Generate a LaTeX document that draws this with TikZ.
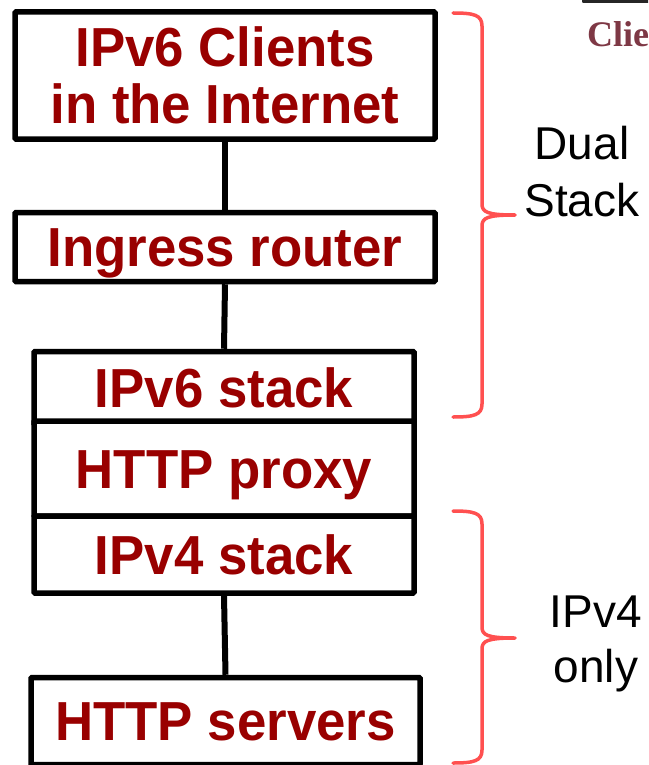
\documentclass[tikz,border=0pt]{standalone}
\usepackage{fontspec}
\setmainfont{Liberation Sans}
\newfontfamily\cliefont{Liberation Serif}
\usepackage{graphicx}
\definecolor{dred}{HTML}{990000}
\definecolor{bracered}{HTML}{FF5050}
\definecolor{cliecol}{HTML}{7E3845}
\newcommand\narrowtxt[1]{\scalebox{0.96}[1]{#1}}
\begin{document}
\begin{tikzpicture}[x=1pt,y=-1pt,
  box/.style={draw=black, line width=5.5pt, rounded corners=1pt, fill=white,
    inner sep=0pt, text=dred, align=center,
    font=\bfseries\fontsize{55}{57}\selectfont},
  capsbox/.style={box, text height=39.4pt, text depth=0pt},
  link/.style={draw=black, line width=6pt},
  brc/.style={draw=bracered, line width=3.5pt, line cap=round, line join=round},
  side/.style={inner sep=0pt, align=center, text=black}
]
\clip (0,0) rectangle (648,765);
\fill[white] (0,0) rectangle (648,765);

% cropped fragment at top right
\fill[black!85, rounded corners=1pt] (582,-3) rectangle (652,3);
\node[inner sep=0pt, anchor=base west, text=cliecol,
  font=\cliefont\bfseries\fontsize{36}{38}\selectfont] (clie) at (587,47) {Clie};

% boxes
\node[box, minimum width=420pt, minimum height=127pt, yshift=2pt] (clients) at (225,77.5)
  {\narrowtxt{IPv6 Clients}\\\narrowtxt{in the Internet}};
\node[capsbox, minimum width=420pt, minimum height=69pt, yshift=-1.5pt] (ingress) at (225,245.5)
  {\narrowtxt{Ingress router}};
\node[capsbox, minimum width=380pt, minimum height=73pt, yshift=-3.5pt] (v6) at (224,384.5)
  {\narrowtxt{IPv6 stack}};
\node[capsbox, minimum width=380pt, minimum height=95pt] (proxy) at (224,468.5)
  {\narrowtxt{HTTP proxy}};
\node[capsbox, minimum width=380pt, minimum height=77pt] (v4) at (224,554.5)
  {\narrowtxt{IPv4 stack}};
\node[capsbox, minimum width=389pt, minimum height=87pt, yshift=1.5pt] (servers) at (225.5,722.5)
  {\narrowtxt{HTTP servers}};

% connectors
\draw[link] (clients.south) -- (ingress.north);
\draw[link] (ingress.south) -- (v6.north);
\draw[link] (v4.south) -- (servers.north);

% braces
\coordinate (b1top) at (453,13);
\coordinate (b1tip) at (515,215);
\coordinate (b1bot) at (453,417);
\draw[brc] (b1top) .. controls (474,13) and (482,15) .. (482,26) -- (482,204)
  .. controls (482,212) and (487,215) .. (b1tip)
  .. controls (487,215) and (482,218) .. (482,226) -- (482,404)
  .. controls (482,415) and (474,417) .. (b1bot);
\coordinate (b2top) at (453,511);
\coordinate (b2tip) at (515,638);
\coordinate (b2bot) at (453,763);
\draw[brc] (b2top) .. controls (474,511) and (482,513) .. (482,524) -- (482,627)
  .. controls (482,635) and (487,638) .. (b2tip)
  .. controls (487,638) and (482,641) .. (482,649) -- (482,750)
  .. controls (482,761) and (474,763) .. (b2bot);

% side labels
\node[side, font=\fontsize{46}{57}\selectfont] (dual) at (582,172) {Dual\\Stack};
\node[side, font=\fontsize{46}{55}\selectfont] (v4only) at (596,644) {IPv4\\only};
\end{tikzpicture}
\end{document}
